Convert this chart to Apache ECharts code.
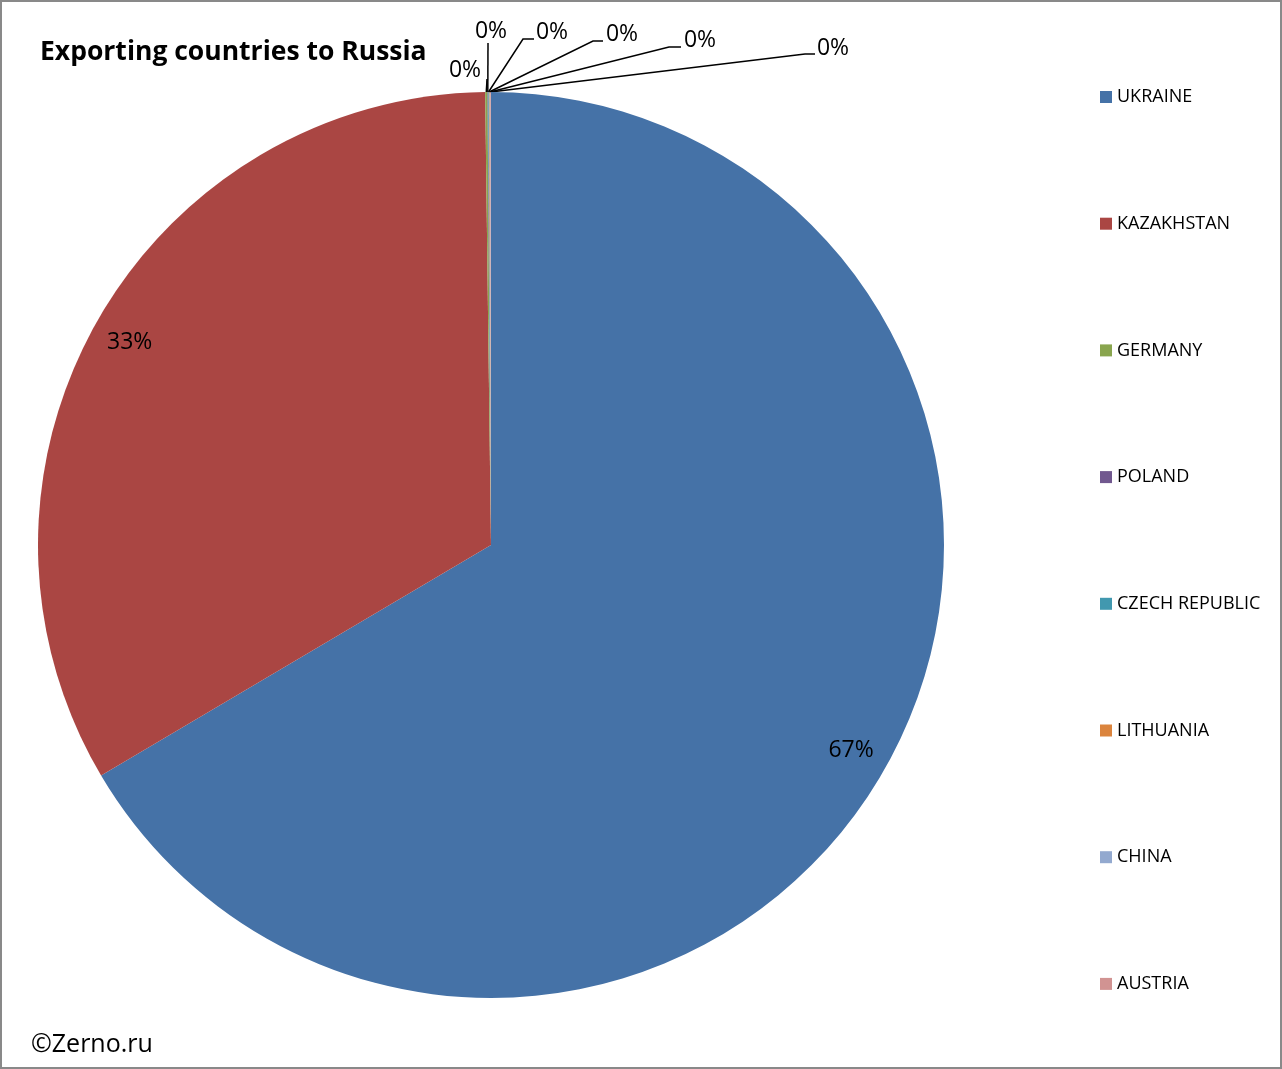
<!DOCTYPE html>
<html>
<head>
<meta charset="utf-8">
<script src="https://cdn.jsdelivr.net/npm/echarts@6/dist/echarts.min.js"></script>
<style>
  html, body { margin: 0; padding: 0; background: #fff; }
  #pieChart { width: 1282px; height: 1069px; }
</style>
</head>
<body>
<div id="pieChart"></div>
<script>
// data (share of imports, %)
var countries = ['UKRAINE', 'KAZAKHSTAN', 'GERMANY', 'POLAND', 'CZECH REPUBLIC', 'LITHUANIA', 'CHINA', 'AUSTRIA'];
var shares = [66.5, 33.295, 0.08, 0.025, 0.025, 0.025, 0.025, 0.025];
var colors = ['#4572A7', '#AA4643', '#89A54E', '#71588F', '#4198AF', '#DB843D', '#93A9CF', '#D19392'];

// pie geometry
var CX = 491, CY = 545, R = 453;
// callouts for the tiny slices: text centre, elbow and end of the leader line
var calloutText = [null, null, [465, 70], [491, 31], [552, 32], [622, 34], [700, 40], [833, 48]];
var calloutElbow = [null, null, [487, 79], [488, 43], [523, 39], [593, 41], [669, 47], [805, 54]];
var calloutEnd = [null, null, null, null, [534, 39], [603, 41], [681, 47], [815, 54]];

var FONT = 'Open Sans';
var myChart = echarts.init(document.getElementById('pieChart'));

var total = 0;
for (var i = 0; i < shares.length; i++) total += shares[i];

// mid point fraction of each slice (clockwise from 12 o'clock)
function midFrac(idx) {
    var acc = 0;
    for (var k = 0; k < idx; k++) acc += shares[k];
    return (acc + shares[idx] / 2) / total;
}
function polar(frac, r) {
    var a = frac * Math.PI * 2;
    return [CX + r * Math.sin(a), CY - r * Math.cos(a)];
}

var dataList = [];
for (var i = 0; i < countries.length; i++) {
    var big = shares[i] > 1;
    dataList.push({
        value: shares[i],
        name: countries[i],
        itemStyle: { color: colors[i] },
        label: { position: big ? 'inside' : 'outside' },
        labelLine: { show: !big && i > 1 }
    });
}

var option = {
    animation: false,
    title: {
        text: 'Exporting countries to Russia',
        left: 35,
        top: 34,
        textStyle: { fontFamily: FONT, fontSize: 26.5, fontWeight: 'bold', color: '#000' }
    },
    legend: {
        orient: 'vertical',
        left: 1095,
        top: 83,
        itemWidth: 12,
        itemHeight: 12,
        itemGap: 108.7,
        icon: 'rect',
        selectedMode: false,
        textStyle: { fontFamily: FONT, fontSize: 18, color: '#000' },
        data: countries
    },
    graphic: [
        {
            type: 'rect',
            shape: { x: 1, y: 1, width: 1280, height: 1067 },
            style: { fill: 'none', stroke: '#898989', lineWidth: 2 },
            silent: true
        },
        {
            type: 'text',
            left: 31,
            top: 1032,
            style: { text: '©Zerno.ru', font: '25px ' + FONT, fill: '#000' }
        }
    ],
    series: [
        {
            name: 'Exporting countries to Russia',
            type: 'pie',
            center: [CX, CY],
            radius: R,
            startAngle: 90,
            clockwise: true,
            avoidLabelOverlap: false,
            itemStyle: { borderWidth: 0 },
            label: {
                show: true,
                fontFamily: FONT,
                fontSize: 23,
                color: '#000',
                formatter: function (p) { return Math.round(p.percent) + '%'; }
            },
            labelLine: {
                lineStyle: { color: '#000', width: 1.5 }
            },
            labelLayout: function (params) {
                var idx = params.dataIndex;
                if (shares[idx] > 1) {
                    var pt = polar(midFrac(idx), R * 0.915);
                    return { x: pt[0], y: pt[1], align: 'center', verticalAlign: 'middle' };
                }
                var arc = polar(midFrac(idx), R);
                var pts = [arc, calloutElbow[idx]];
                if (calloutEnd[idx]) pts.push(calloutEnd[idx]);
                else pts.push(calloutElbow[idx]);
                return {
                    x: calloutText[idx][0],
                    y: calloutText[idx][1],
                    align: 'center',
                    verticalAlign: 'middle',
                    labelLinePoints: pts
                };
            },
            emphasis: { disabled: true },
            data: dataList
        }
    ]
};
myChart.setOption(option);
</script>
</body>
</html>
